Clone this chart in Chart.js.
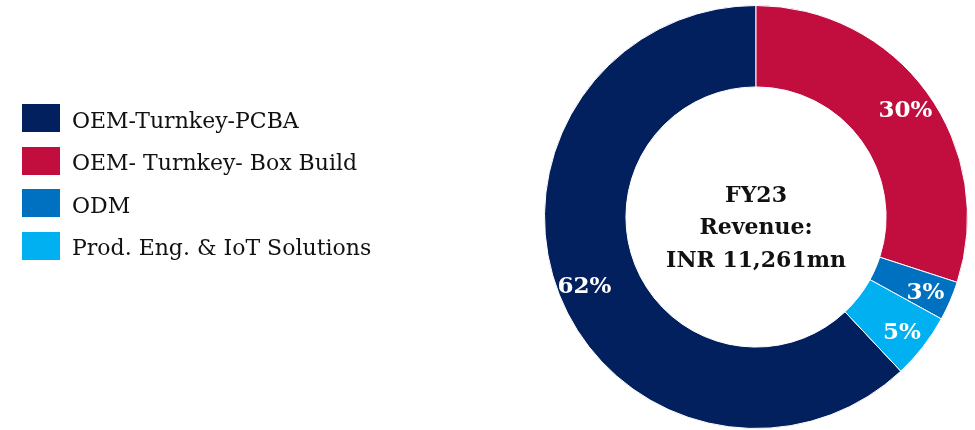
<!DOCTYPE html>
<html>
<head>
<meta charset="utf-8">
<script src="https://cdn.jsdelivr.net/npm/chart.js@4.4.1/dist/chart.umd.min.js"></script>
<style>
  html, body { margin: 0; padding: 0; background: #fff; }
  #wrap { position: relative; width: 975px; height: 430px; }
  #legend { position: absolute; left: 22px; top: 104px; margin: 0; padding: 0; list-style: none;
            font-family: "DejaVu Serif", serif; font-size: 22px; color: #111; }
  #legend li { display: flex; align-items: center; height: 28px; margin-bottom: 14.5px; white-space: nowrap; }
  #legend .sw { width: 38px; height: 28px; margin-right: 12px; flex: none; }
  #legend .tx { position: relative; top: 2px; }
</style>
</head>
<body>
<div id="wrap">
  <canvas id="c"></canvas>
  <ul id="legend"></ul>
</div>
<script>
// Revenue split by business segment, FY23 (share of total, %)
const segments = ['OEM-Turnkey-PCBA', 'OEM- Turnkey- Box Build', 'ODM', 'Prod. Eng. & IoT Solutions'];
const shares = [62, 30, 3, 5];
const colors = ['#03205E', '#C10E3F', '#0070C0', '#00B0F0'];
const centerLines = ['FY23', 'Revenue:', 'INR 11,261mn'];

// start the first segment so that the second one begins at 12 o'clock
const total = shares.reduce((a, b) => a + b, 0);
const startRotation = 360 * (total - shares[0]) / total;

// legend
const legendEl = document.getElementById('legend');
segments.forEach((s, i) => {
  const li = document.createElement('li');
  const sw = document.createElement('span');
  sw.className = 'sw';
  sw.style.background = colors[i];
  const tx = document.createElement('span');
  tx.className = 'tx';
  tx.textContent = s;
  li.appendChild(sw);
  li.appendChild(tx);
  legendEl.appendChild(li);
});

// draw text so that its capitals are vertically centred on y
function capText(ctx, text, x, y, size) {
  ctx.textBaseline = 'alphabetic';
  ctx.fillText(text, x, y + size * 0.729 / 2);
}

// percentage labels inside each ring segment
const sliceLabels = {
  id: 'sliceLabels',
  afterDatasetsDraw(chart) {
    const ctx = chart.ctx;
    const meta = chart.getDatasetMeta(0);
    const vals = chart.data.datasets[0].data;
    const size = 23;
    ctx.save();
    ctx.fillStyle = '#ffffff';
    ctx.font = 'bold ' + size + 'px "DejaVu Serif", serif';
    ctx.textAlign = 'center';
    meta.data.forEach((arc, i) => {
      const p = arc.getProps(['x', 'y', 'startAngle', 'endAngle', 'innerRadius', 'outerRadius'], true);
      const a = (p.startAngle + p.endAngle) / 2;
      const r = p.innerRadius + 0.67 * (p.outerRadius - p.innerRadius);
      capText(ctx, vals[i] + '%', p.x + Math.cos(a) * r, p.y + Math.sin(a) * r, size);
    });
    ctx.restore();
  }
};

// headline text in the hole
const centerText = {
  id: 'centerText',
  afterDatasetsDraw(chart) {
    const arc = chart.getDatasetMeta(0).data[0];
    const ctx = chart.ctx;
    const size = 22;
    ctx.save();
    ctx.fillStyle = '#111111';
    ctx.font = 'bold ' + size + 'px "DejaVu Serif", serif';
    ctx.textAlign = 'center';
    const lh = 32.5;
    const y0 = arc.y + 9 - lh * (centerLines.length - 1) / 2;
    centerLines.forEach((t, i) => capText(ctx, t, arc.x, y0 + i * lh, size));
    ctx.restore();
  }
};

new Chart(document.getElementById('c'), {
  type: 'doughnut',
  data: {
    labels: segments,
    datasets: [{
      data: shares,
      backgroundColor: colors,
      borderColor: '#ffffff',
      borderWidth: 1
    }]
  },
  options: {
    responsive: true,
    maintainAspectRatio: false,
    animation: false,
    rotation: startRotation,
    cutout: '61.5%',
    layout: { padding: { left: 544, right: 7, top: 5, bottom: 1 } },
    plugins: {
      legend: { display: false },
      tooltip: { enabled: false }
    }
  },
  plugins: [sliceLabels, centerText]
});
</script>
</body>
</html>
